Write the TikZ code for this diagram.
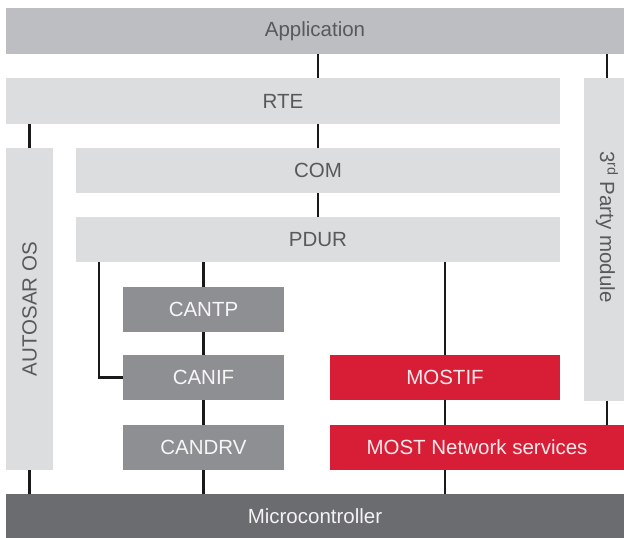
\documentclass[tikz,border=0pt]{standalone}
\usepackage{fontspec}
\setmainfont{Liberation Sans}
\usetikzlibrary{calc}
\definecolor{appgray}{HTML}{BDBEC1}
\definecolor{layergray}{HTML}{DCDDDF}
\definecolor{cangray}{HTML}{8E8F92}
\definecolor{mcgray}{HTML}{6B6C6F}
\definecolor{mostred}{HTML}{D71E36}
\definecolor{textgray}{HTML}{58595B}

\begin{document}
\begin{tikzpicture}[x=1pt,y=-1pt,
    font=\fontsize{20.5}{24}\selectfont,
    blk/.style={inner sep=0pt,outer sep=0pt},
    applayer/.style={blk,fill=appgray,text=textgray},
    layer/.style={blk,fill=layergray,text=textgray},
    canlayer/.style={blk,fill=cangray,text=white!92!cangray,minimum width=161pt,minimum height=45pt},
    mostlayer/.style={blk,fill=mostred,text=white!90!mostred},
    mclayer/.style={blk,fill=mcgray,text=white!92!mcgray},
    link/.style={line width=2.6pt,color=black!90}]
    \useasboundingbox (0,0) rectangle (624,538);
    \clip (0,0) rectangle (624,538);
    % layers
    \node[applayer,minimum width=630pt,minimum height=46pt] (app) at (321,31) {\hspace*{-12pt}Application};
    \node[layer,minimum width=554pt,minimum height=46pt] (rte) at (283,101) {RTE};
    \node[layer,rotate=-90,minimum width=323pt,minimum height=46pt] (party) at (607,239.5) {3\textsuperscript{rd} Party module\hspace*{25pt}};
    \node[layer,rotate=90,minimum width=322pt,minimum height=47pt] (os) at (29.5,309) {AUTOSAR OS};
    \node[layer,minimum width=484pt,minimum height=45pt] (com) at (318,170.5) {COM};
    \node[layer,minimum width=484pt,minimum height=45pt] (pdur) at (318,239.5) {PDUR};
    % CAN stack
    \node[canlayer] (cantp) at (203.5,309.5) {CANTP};
    \node[canlayer] (canif) at (203.5,377.5) {CANIF};
    \node[canlayer] (candrv) at (203.5,447.5) {CANDRV};
    % MOST stack
    \node[mostlayer,minimum width=230pt,minimum height=45pt] (mostif) at (445,377.5) {MOSTIF};
    \node[mostlayer,minimum width=294pt,minimum height=45pt] (mostns) at (477,447.5) {MOST Network services};
    \node[mclayer,minimum width=618pt,minimum height=44pt] (micro) at (315,516) {Microcontroller};
    % links
    \draw[link] (app.south -| com) -- (rte.north -| com);
    \draw[link] (app.south -| party) -- (party.west);
    \draw[link] (rte.south -| os) -- (os.east);
    \draw[link] (rte.south -| com) -- (com.north);
    \draw[link] (com.south) -- (pdur.north);
    \draw[link] (pdur.south -| cantp) -- (cantp.north);
    \draw[link] ([xshift=23pt]pdur.south west) |- (canif.west);
    \draw[link] (pdur.south -| mostif) -- (mostif.north);
    \draw[link] (cantp.south) -- (canif.north);
    \draw[link] (canif.south) -- (candrv.north);
    \draw[link] (candrv.south) -- (micro.north -| candrv);
    \draw[link] (os.west) -- (micro.north -| os);
    \draw[link] (mostif.south) -- (mostns.north -| mostif);
    \draw[link] (mostns.south -| mostif) -- (micro.north -| mostif);
    \draw[link] (party.east) -- (mostns.north -| party);
\end{tikzpicture}
\end{document}
